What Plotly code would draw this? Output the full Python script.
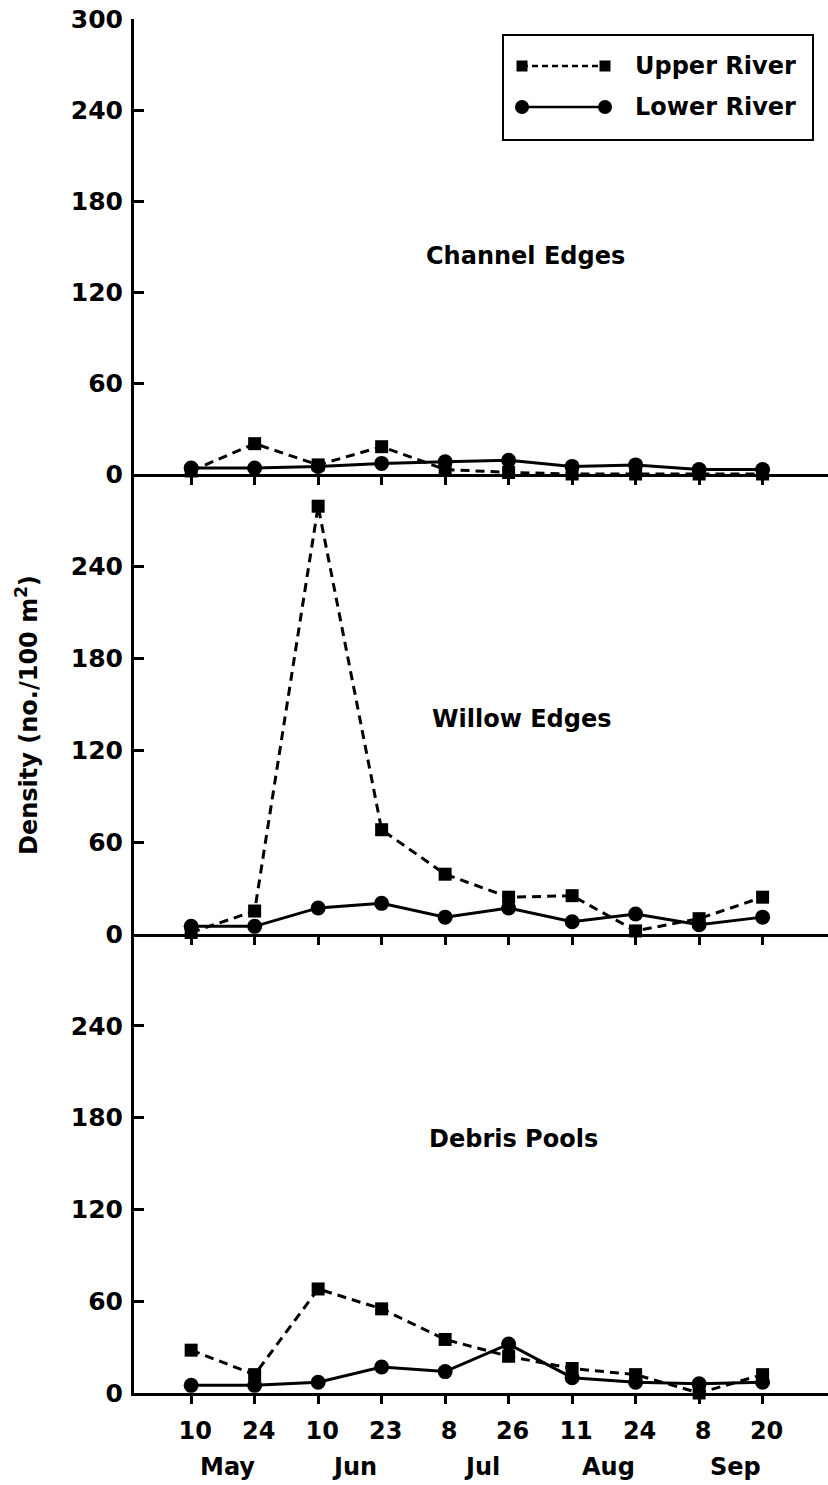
import plotly.graph_objects as go

# ---------------- data ----------------
day_labels = ["10", "24", "10", "23", "8", "26", "11", "24", "8", "20"]
month_labels = ["May", "Jun", "Jul", "Aug", "Sep"]
panel_names = ["Channel Edges", "Willow Edges", "Debris Pools"]
series_names = ["Upper River", "Lower River"]

channel_upper = [2, 20, 6, 18, 3, 1, 0, 0, 0, 0]
channel_lower = [4, 4, 5, 7, 8, 9, 5, 6, 3, 3]
willow_upper = [1, 15, 279, 68, 39, 24, 25, 2, 10, 24]
willow_lower = [5, 5, 17, 20, 11, 17, 8, 13, 6, 11]
debris_upper = [28, 12, 68, 55, 35, 24, 16, 12, 0, 12]
debris_lower = [5, 5, 7, 17, 14, 32, 10, 7, 6, 7]

y_title = "Density (no./100 m<sup>2</sup>)"

# ---------------- geometry ----------------
W, H = 828, 1485
L, R, T, B = 134, 0, 19, 92
PW, PH = W - L - R, H - T - B


def px_x(p):
    return (p - L) / PW


def px_y(p):
    return (H - B - p) / PH


FONT = "DejaVu Sans"
BLACK = "#000000"

x = list(range(len(day_labels)))
panels = [
    (channel_upper, channel_lower, "x", "y"),
    (willow_upper, willow_lower, "x2", "y2"),
    (debris_upper, debris_lower, "x3", "y3"),
]

fig = go.Figure()
for up, low, xa, ya in panels:
    fig.add_trace(go.Scatter(
        x=x, y=low, xaxis=xa, yaxis=ya, mode="lines+markers",
        name=series_names[1], showlegend=False, cliponaxis=False,
        line=dict(color=BLACK, width=3),
        marker=dict(symbol="circle", size=15, color=BLACK),
    ))
    fig.add_trace(go.Scatter(
        x=x, y=up, xaxis=xa, yaxis=ya, mode="lines+markers",
        name=series_names[0], showlegend=False, cliponaxis=False,
        line=dict(color=BLACK, width=3, dash="9px,6px"),
        marker=dict(symbol="square", size=13, color=BLACK),
    ))

top_split = px_y(474)
mid_split = px_y(934)
domains = {"y": [top_split, 1], "y2": [mid_split, top_split], "y3": [0, mid_split]}

xtickfont = dict(family=FONT, size=24, color=BLACK, weight="bold")
ytickfont = dict(family=FONT, size=25, color=BLACK, weight="bold")
xrange = [-0.9, 10.03]

common_x = dict(
    range=xrange, tickmode="array", tickvals=x, ticktext=day_labels,
    showline=True, linecolor=BLACK, linewidth=3,
    ticks="outside", ticklen=8, tickwidth=2.5, tickcolor=BLACK,
    showgrid=False, zeroline=False, tickfont=xtickfont,
    ticklabelstandoff=6, ticklabelshift=4,
)
fig.update_layout(
    xaxis=dict(common_x, anchor="y", showticklabels=False),
    xaxis2=dict(common_x, anchor="y2", showticklabels=False, matches="x"),
    xaxis3=dict(common_x, anchor="y3", showticklabels=True, matches="x"),
)

common_y = dict(
    range=[0, 300], showline=True, linecolor=BLACK, linewidth=3,
    ticks="inside", ticklen=10, tickwidth=2.5, tickcolor=BLACK,
    showgrid=False, zeroline=False, tickfont=ytickfont,
    ticklabelstandoff=3,
)
fig.update_layout(
    yaxis=dict(common_y, domain=domains["y"], anchor="x",
               tickvals=[0, 60, 120, 180, 240, 300]),
    yaxis2=dict(common_y, domain=domains["y2"], anchor="x2",
                tickvals=[0, 60, 120, 180, 240]),
    yaxis3=dict(common_y, domain=domains["y3"], anchor="x3",
                tickvals=[0, 60, 120, 180, 240]),
)

annotations = []
# month labels
for i, m in enumerate(month_labels):
    annotations.append(dict(
        text=m, xref="x3", yref="paper", x=2 * i + 0.58, y=px_y(1467),
        showarrow=False, xanchor="center", yanchor="middle",
        font=dict(family=FONT, size=24, color=BLACK, weight="bold"),
    ))
# panel labels
panel_pos = [(5.26, 144, "x", "y"), (5.2, 140, "x2", "y2"), (5.07, 166, "x3", "y3")]
for name, (px_, py_, xr, yr) in zip(panel_names, panel_pos):
    annotations.append(dict(
        text=name, xref=xr, yref=yr, x=px_, y=py_, showarrow=False,
        xanchor="center", yanchor="middle",
        font=dict(family=FONT, size=24, color=BLACK, weight="bold"),
    ))
# y axis title
annotations.append(dict(
    text=y_title, xref="paper", yref="paper", x=px_x(27), y=px_y(715),
    showarrow=False, textangle=-90, xanchor="center", yanchor="middle",
    font=dict(family=FONT, size=24, color=BLACK, weight="bold"),
))

# custom legend (box, sample lines, markers, text)
shapes = []
shapes.append(dict(type="rect", xref="paper", yref="paper",
                   x0=px_x(503), x1=px_x(813), y0=px_y(140), y1=px_y(35),
                   line=dict(color=BLACK, width=2), fillcolor="white", layer="above"))
rows = [(px_y(66), "square", "6px,4px", series_names[0]),
        (px_y(107), "circle", "solid", series_names[1])]
for yy, sym, dash, label in rows:
    shapes.append(dict(type="line", xref="paper", yref="paper",
                       x0=px_x(522), x1=px_x(605), y0=yy, y1=yy,
                       line=dict(color=BLACK, width=2.5, dash=dash), layer="above"))
    for xx in (522, 605):
        half = 5.5 if sym == "square" else 7
        shapes.append(dict(
            type="rect" if sym == "square" else "circle",
            xref="paper", yref="paper", xsizemode="pixel", ysizemode="pixel",
            xanchor=px_x(xx), yanchor=yy, x0=-half, x1=half, y0=-half, y1=half,
            fillcolor=BLACK, line=dict(color=BLACK, width=0), layer="above"))
    annotations.append(dict(
        text=label, xref="paper", yref="paper", x=px_x(633), y=yy,
        showarrow=False, xanchor="left", yanchor="middle",
        font=dict(family=FONT, size=24, color=BLACK, weight="bold"),
    ))

fig.update_layout(
    width=W, height=H,
    margin=dict(l=L, r=R, t=T, b=B, pad=0),
    paper_bgcolor="white", plot_bgcolor="white",
    showlegend=False, annotations=annotations, shapes=shapes,
    font=dict(family=FONT, color=BLACK),
)

fig.write_html("out.html")
